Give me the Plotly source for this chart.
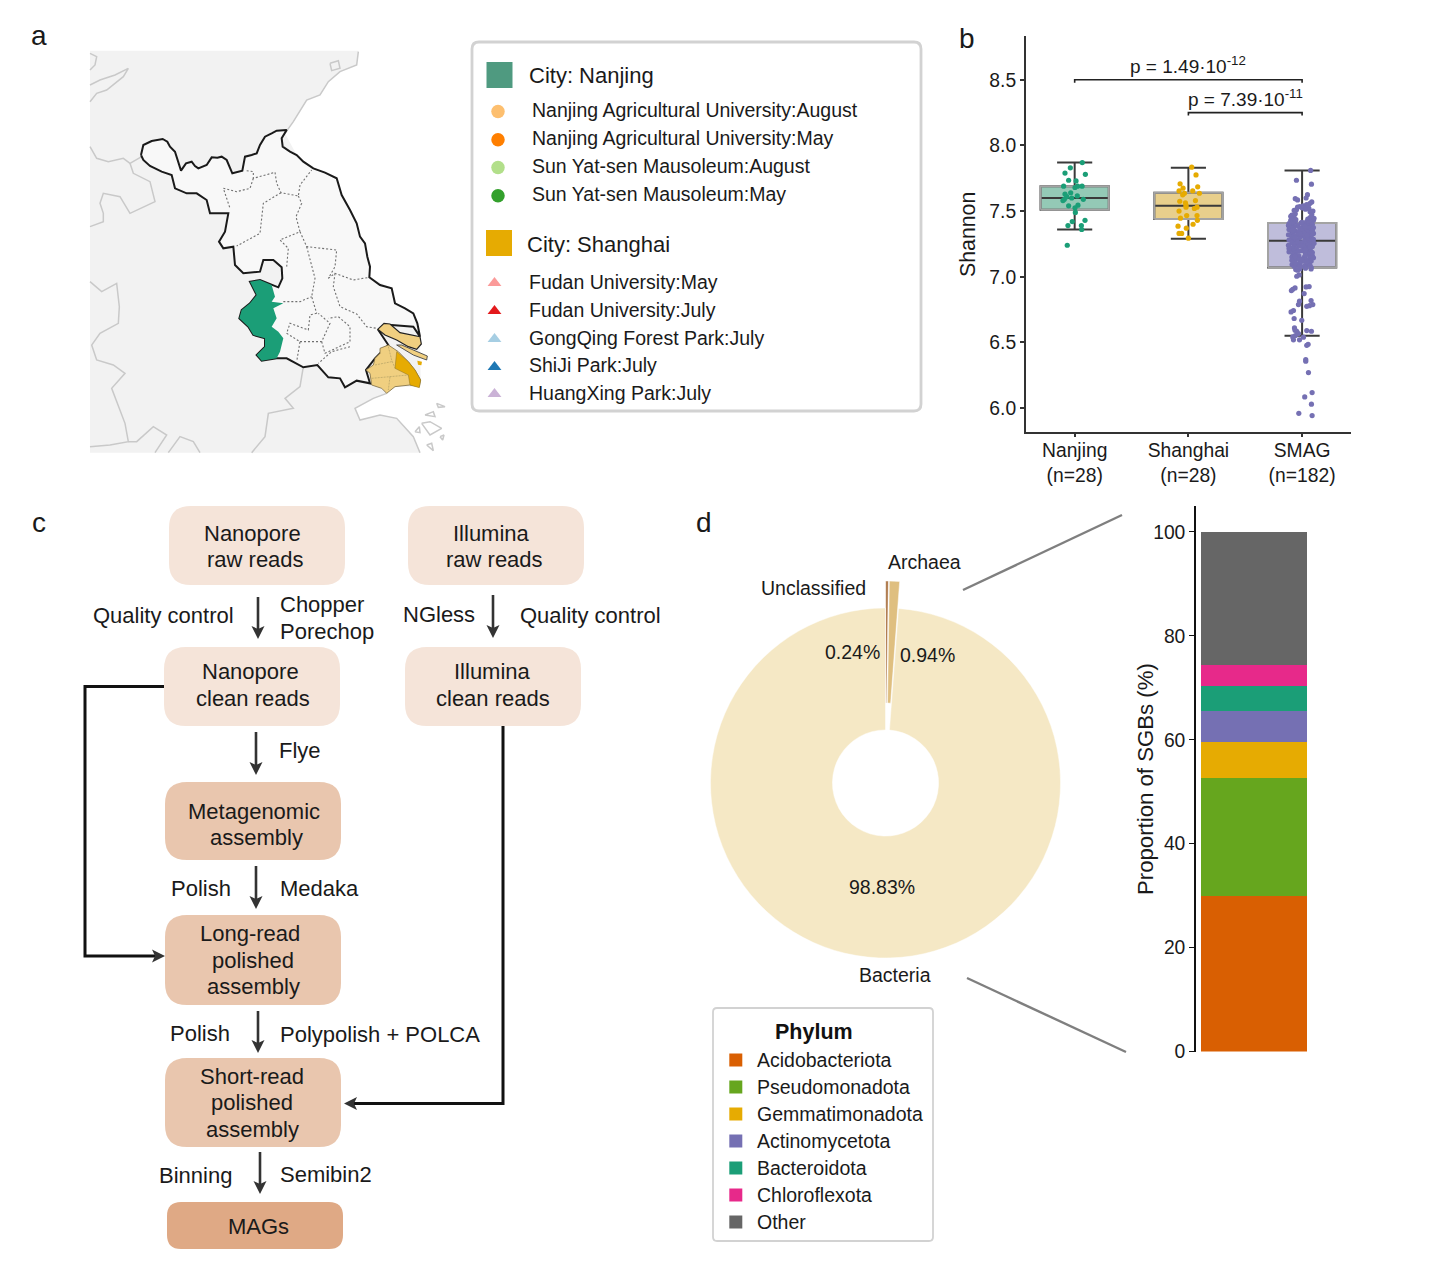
import plotly.graph_objects as go

W, H = 1456, 1282
FONT = "Liberation Sans"
TEXT = "#1a1a1a"

# ---------- panel a: map outlines, in map units ----------
LAND = [(30,32),(835,32),(830,75),(780,95),(745,125),(720,165),(680,180),(640,245),(615,280),(650,345),(700,385),(770,415),(785,465),(830,550),(840,590),(855,610),(870,680),(868,712),(935,745),(945,790),(1000,820),(1020,890),(1022,1020),(1018,1040),(945,1040),(920,1060),(880,1075),(825,1105),(840,1140),(900,1125),(950,1135),(1000,1190),(1020,1238),(30,1238),(30,32)]
JIANGSU = [(183,345),(190,315),(215,303),(232,300),(248,297),(262,305),(270,320),(285,335),(292,355),(303,392),(318,370),(335,365),(345,378),(355,385),(380,375),(395,352),(412,353),(425,350),(440,360),(447,375),(457,400),(487,392),(495,350),(515,345),(530,340),(540,315),(555,290),(575,280),(590,272),(620,270),(605,295),(608,320),(630,335),(650,345),(670,365),(700,385),(735,398),(770,415),(778,445),(785,465),(810,510),(830,550),(840,590),(855,610),(862,650),(870,680),(868,712),(900,735),(935,745),(945,790),(975,805),(1000,820),(1012,850),(1020,890),(1000,860),(935,855),(895,870),(925,915),(885,955),(858,990),(870,1030),(830,1022),(795,1042),(780,1015),(745,1012),(712,975),(670,982),(640,965),(620,955),(590,955),(545,962),(530,945),(555,920),(555,895),(520,885),(505,860),(478,835),(485,810),(510,790),(530,765),(510,725),(540,720),(575,735),(595,742),(607,715),(605,682),(580,660),(550,660),(540,695),(490,700),(465,675),(460,620),(430,625),(417,605),(435,575),(445,520),(390,520),(380,480),(350,460),(320,460),(285,445),(275,405),(245,395),(210,378),(190,360),(183,345)]
NANJING_AREA = [(510,725),(540,720),(575,735),(585,770),(575,785),(610,790),(580,805),(590,835),(575,860),(595,875),(610,895),(600,935),(590,955),(545,962),(530,945),(555,920),(555,895),(520,885),(505,860),(478,835),(485,810),(510,790),(530,765),(510,725)]
SHANGHAI_AREA = [(925,915),(955,935),(985,965),(1005,990),(1022,1020),(1018,1040),(990,1035),(945,1040),(920,1060),(905,1045),(875,1035),(870,1000),(858,990),(880,975),(885,955),(900,940),(900,925),(925,915)]
PUDONG = [(950,935),(985,965),(1005,990),(1022,1020),(1018,1043),(990,1035),(985,1005),(945,985),(950,935)]
CHONGMING = [(893,868),(912,850),(930,852),(960,878),(1020,890),(1024,912),(1010,928),(985,920),(950,900),(915,885),(893,868)]
HENGSHA = [(950,915),(965,915),(1042,948),(1040,960),(1000,945),(950,915)]
ISLET = [(1012,962),(1026,965),(1024,976),(1014,974),(1012,962)]
GREY_BORDERS = [
    [(30,40),(50,50),(45,75),(30,90)],
    [(30,135),(60,120),(105,105),(145,85),(130,110),(80,150),(50,160),(30,185)],
    [(30,320),(50,355),(85,365),(130,355),(150,370),(185,350)],
    [(150,370),(160,400),(210,425),(225,485),(150,520),(120,470),(70,460),(60,490),(70,520),(70,545),(30,560)],
    [(30,725),(65,755),(110,730),(118,800),(115,850),(60,880),(35,915),(50,960),(100,975),(135,1000),(95,1045),(115,1095),(135,1150),(145,1205),(90,1215),(30,1220)],
    [(145,1205),(170,1205),(220,1160),(260,1185),(225,1238)],
    [(265,1238),(300,1190),(340,1205),(360,1238)],
    [(670,980),(660,1040),(615,1075),(640,1105),(565,1120),(555,1190),(515,1238)],
    [(835,35),(830,75),(780,95),(745,125),(720,165),(680,180),(640,245),(615,280)],
    [(750,70),(775,62),(780,85),(755,92),(750,70)],
    [(920,1060),(880,1075),(825,1105),(840,1140),(900,1125),(950,1135),(1000,1190),(1020,1238)],
    [(1070,1090),(1095,1100),(1075,1102),(1070,1090)],
    [(1035,1125),(1060,1115),(1065,1130),(1035,1125)],
    [(1005,1175),(1018,1160),(1020,1178),(1005,1175)],
    [(1025,1150),(1050,1145),(1085,1165),(1050,1185),(1025,1150)],
    [(1080,1190),(1092,1185),(1088,1200),(1080,1190)],
    [(1040,1215),(1055,1210),(1060,1232),(1040,1215)],
]
CITY_BORDERS = [
    [(500,392),(520,395),(520,415),(585,397),(590,430),(603,458),(655,468),(660,435),(695,390)],
    [(520,415),(510,445),(470,455),(430,445),(450,505)],
    [(603,458),(550,490),(540,580),(470,618)],
    [(655,468),(665,490),(648,530),(660,575),(600,600),(625,625),(620,680)],
    [(660,575),(680,620),(770,630),(765,680),(745,715)],
    [(680,620),(705,715),(695,770),(710,820)],
    [(745,715),(765,700),(820,720),(868,712)],
    [(765,700),(760,740),(780,800),(830,822),(860,860),(890,865)],
    [(610,785),(660,785),(695,770)],
    [(710,820),(690,825),(685,870),(630,850),(620,880),(660,905),(650,965)],
    [(660,905),(725,905),(750,850),(715,820)],
    [(725,905),(735,940),(810,905),(810,860),(775,830),(745,835)],
    [(810,920),(755,935),(715,970)],
]
SHANGHAI_DISTRICTS = [
    [(925,920),(935,960),(945,985)],
    [(885,975),(935,965)],
    [(875,1015),(930,1010),(985,1005)],
    [(930,1010),(925,1050)],
]

# ---------- panel a: legend ----------
CITY_LABELS = ["City: Nanjing", "City: Shanghai"]
CITY_COLORS = ["#4f9a80", "#e6ab02"]
NANJING_SITES = ["Nanjing Agricultural University:August", "Nanjing Agricultural University:May",
                 "Sun Yat-sen Mausoleum:August", "Sun Yat-sen Mausoleum:May"]
NANJING_COLORS = ["#fdbf6f", "#ff7f00", "#b2df8a", "#33a02c"]
SHANGHAI_SITES = ["Fudan University:May", "Fudan University:July", "GongQing Forest Park:July",
                  "ShiJi Park:July", "HuangXing Park:July"]
SHANGHAI_COLORS = ["#fb9a99", "#e31a1c", "#a6cee3", "#1f78b4", "#cab2d6"]

# ---------- panel b: Shannon diversity ----------
GROUPS = ["Nanjing<br>(n=28)", "Shanghai<br>(n=28)", "SMAG<br>(n=182)"]
GROUP_COLORS = ["#1b9e77", "#e6ab02", "#7570b3"]
GROUP_FILLS = ["#94c9b6", "#e8cf8c", "#bfbddb"]
Q1 = [7.51, 7.44, 7.07]
MEDIAN = [7.60, 7.54, 7.275]
Q3 = [7.69, 7.64, 7.41]
LOW = [7.36, 7.29, 6.55]
HIGH = [7.87, 7.83, 7.81]
NANJING_V = [7.87,7.83,7.79,7.78,7.735,7.73,7.69,7.68,7.69,7.69,7.64,7.63,7.616,7.61,7.59,7.58,7.60,7.59,7.545,7.54,7.525,7.49,7.42,7.43,7.39,7.39,7.36,7.24]
NANJING_DX = [.067,-.038,-.085,.094,-.053,.012,-.097,.003,.026,.065,-.035,-.085,.023,-.07,-.091,-.103,-.026,.076,.029,-.053,.003,.006,-.021,.091,-.059,.059,.062,-.065]
SHANGHAI_V = [7.835,7.776,7.708,7.685,7.675,7.654,7.654,7.636,7.636,7.624,7.575,7.58,7.563,7.545,7.53,7.53,7.52,7.50,7.466,7.466,7.446,7.43,7.40,7.385,7.37,7.33,7.33,7.294]
SHANGHAI_DX = [.029,.067,-.073,.082,-.047,-.082,.038,.097,-.035,-.05,-.076,.062,-.026,-.021,-.021,.076,.053,-.082,-.015,.076,-.07,.079,.041,-.091,-.018,-.082,-.059,0]
SMAG_POINTS = [
 (5.96,-.029),(5.943,.088),(6.03,.082),(6.085,.023),(6.118,.088),(6.27,.056),(6.37,.032),(6.357,.032),(6.486,.053),(6.478,.041),
 (6.54,.012),(6.52,-.023),(6.52,-.076),(6.542,-.082),(6.552,-.059),(6.567,-.032),(6.61,-.067),(6.593,-.062),(6.585,-.047),(6.59,.041),
 (6.585,.082),(6.669,-.003),(6.682,-.07),(6.743,-.076),(6.732,-.097),(6.814,-.023),(6.788,-.032),(6.775,.041),(6.78,.065),(6.788,.094),
 (6.819,.079),(6.872,.018),(6.895,-.094),(6.905,-.082),(6.915,-.062),(6.923,.035),(6.925,.062),(7.004,-.047),(7.014,-.026),(7.055,-.056),
 (7.06,.079),(7.093,-.088),(7.093,-.047),(7.10,-.018),(7.118,.018),(7.11,.065),
 (7.81,.075),(7.735,-.05),(7.705,.082),(7.625,.047),(7.60,.035),(7.595,-.06),(7.585,-.04),(7.57,.085),(7.56,.07),(7.55,.04),
 (7.54,.01),(7.535,-.02),(7.51,-.05),(7.495,.07),(7.48,-.06),
 (7.47,-.09),(7.525,.0),(7.52,.06),(7.46,-.1),(7.515,.03),(7.50,.095),(7.45,-.07),(7.505,-.07),(7.45,.07),(7.44,-.09),(7.53,-.04),(7.44,.05),
 (7.43,-.1),(7.545,.055),(7.43,.1),(7.42,-.06),(7.42,.04),(7.42,.08),(7.41,-.09),(7.41,-.01),(7.41,.06),(7.40,-.08),(7.40,.02),(7.40,.09),
 (7.39,-.12),(7.39,-.04),(7.39,.05),(7.38,-.07),(7.38,.01),(7.38,.08),(7.37,-.09),(7.37,-.02),(7.37,.06),(7.36,-.115),(7.36,.03),(7.36,.09),
 (7.35,-.06),(7.35,.0),(7.35,.07),(7.34,-.09),(7.34,-.03),(7.34,.05),(7.33,-.08),(7.33,.02),(7.33,.1),(7.32,-.12),(7.32,-.04),(7.32,.06),
 (7.31,-.07),(7.31,.01),(7.31,.08),(7.30,-.09),(7.30,-.02),(7.30,.04),(7.29,-.08),(7.29,.03),(7.29,.07),(7.28,-.115),(7.28,-.05),(7.28,.05),
 (7.27,-.07),(7.27,.02),(7.27,.09),(7.26,-.09),(7.26,-.01),(7.26,.06),(7.25,-.06),(7.25,.03),(7.25,.08),(7.24,-.12),(7.24,-.03),(7.24,.05),
 (7.23,-.07),(7.23,.01),(7.23,.09),(7.22,-.09),(7.22,.04),(7.21,-.05),(7.21,.07),(7.20,-.08),(7.20,.0),(7.20,.05),(7.19,-.115),(7.19,.08),
 (7.18,-.06),(7.18,.03),(7.17,-.08),(7.17,.06),(7.16,-.03),(7.16,.09),(7.15,-.09),(7.15,.02),(7.14,-.05),(7.14,.07),(7.13,-.07),(7.13,.04),
 (7.12,-.02),(7.12,.08),(7.09,.04),(7.08,-.07),(7.08,.02),(7.07,.08),(7.06,-.02),(7.05,-.04),
 (7.445,.105),(7.435,-.055),(7.415,.0),(7.405,-.115),(7.385,.025),(7.375,.1),(7.355,-.085),(7.345,.09),(7.325,-.015),(7.315,.045),(7.295,-.06),
 (7.285,.1),(7.265,-.04),(7.255,.105),(7.235,-.015),(7.225,.065),(7.215,-.115),(7.205,.03),(7.195,-.03),(7.185,.09),(7.165,.03),(7.155,-.065),
 (7.145,.1),(7.135,-.01),(7.125,-.09),(7.115,.04),(7.105,-.06),(7.085,.07),(7.075,-.02),(7.065,.03),(7.475,.085),
]
BRACKET_LEVELS = [8.5, 8.25]
BRACKET_LABELS = ["p = 1.49·10<sup>-12</sup>", "p = 7.39·10<sup>-11</sup>"]

# ---------- panel d ----------
DOMAINS = ["Unclassified", "Archaea", "Bacteria"]
DOMAIN_SHARE = [0.24, 0.94, 98.83]
DOMAIN_COLORS = ["#a9703f", "#dfbf80", "#f5e8c5"]
DOMAIN_PULL = [0.154, 0.154, 0]
PHYLA = ["Acidobacteriota", "Pseudomonadota", "Gemmatimonadota", "Actinomycetota", "Bacteroidota", "Chloroflexota", "Other"]
PHYLA_SHARE = [30.0, 22.7, 6.9, 5.9, 4.9, 4.0, 25.6]
PHYLA_COLORS = ["#d95f02", "#66a61e", "#e6ab02", "#7570b3", "#1b9e77", "#e7298a", "#666666"]

# ---------- panel c: flow chart ----------
LIGHT, MID, DARK = "#f5e4d9", "#e9c6ae", "#dfa985"
NODES = [
    (169,506,345,585,LIGHT),(408,506,584,585,LIGHT),(164,647,340,726,LIGHT),(405,647,581,726,LIGHT),
    (165,782,341,860,MID),(165,915,341,1005,MID),(165,1058,341,1147,MID),(167,1202,343,1249,DARK),
]
STEPS = [(258,597,639),(493,595,638),(256,732,775),(256,866,909),(258,1011,1053),(260,1152,1194)]
CENTERED = [
    ("Nanopore",252,533),("raw reads",255,559),("Illumina",491,533),("raw reads",494,559),
    ("Nanopore",250,671),("clean reads",253,698),("Illumina",492,671),("clean reads",493,698),
    ("Metagenomic",254,811),("assembly",256,837),("Long-read",250,933),("polished",253,960),("assembly",253,986),
    ("Short-read",252,1076),("polished",252,1102),("assembly",252,1129),("MAGs",258,1226),
]
LEFT = [
    ("Quality control",92,615),("Chopper",279,604),("Porechop",279,631),("NGless",402,614),("Quality control",519,615),
    ("Flye",278,750),("Polish",170,888),("Medaka",279,888),("Polish",169,1033),("Polypolish + POLCA",279,1034),
    ("Binning",158,1175),("Semibin2",279,1174),
]
PANEL_LETTERS = [("a",30,35),("b",958,38),("c",31,522),("d",695,522)]

def dom_x(a, b): return [a / W, b / W]
def dom_y(top, bottom): return [1 - bottom / H, 1 - top / H]

fig = go.Figure()

def xy(pts):
    return [p[0] for p in pts], [p[1] for p in pts]

# ----- canvas traces (legend markers) -----
fig.add_trace(go.Scatter(x=[499.5, 499], y=[75, 243], mode="markers", xaxis="x", yaxis="y",
                         marker=dict(symbol="square", size=26, color=CITY_COLORS), hoverinfo="skip"))
fig.add_trace(go.Scatter(x=[498]*4, y=[111.5, 139.7, 167.6, 195.8], mode="markers", xaxis="x", yaxis="y",
                         marker=dict(symbol="circle", size=13.5, color=NANJING_COLORS), hoverinfo="skip"))
fig.add_trace(go.Scatter(x=[494.5]*5, y=[283, 311, 339, 367, 394], mode="markers", xaxis="x", yaxis="y",
                         marker=dict(symbol="triangle-up", size=12, color=SHANGHAI_COLORS), hoverinfo="skip"))
fig.add_trace(go.Scatter(x=[735.8]*7, y=[1060, 1087, 1114, 1141, 1168, 1195, 1222], mode="markers", xaxis="x", yaxis="y",
                         marker=dict(symbol="square", size=13, color=PHYLA_COLORS), hoverinfo="skip"))

# ----- map -----
def area(pts, fill, line="rgba(0,0,0,0)", width=0):
    x, y = xy(pts)
    fig.add_trace(go.Scatter(x=x, y=y, mode="lines", fill="toself", fillcolor=fill, xaxis="x2", yaxis="y2",
                             line=dict(color=line, width=width), hoverinfo="skip"))
def polyline(pts, color, width, dash="solid"):
    x, y = xy(pts)
    fig.add_trace(go.Scatter(x=x, y=y, mode="lines", xaxis="x2", yaxis="y2",
                             line=dict(color=color, width=width, dash=dash), hoverinfo="skip"))

area(LAND, "#f2f2f2")
for b in GREY_BORDERS:
    polyline(b, "#c9c9c9", 1.5)
area(JIANGSU, "#f8f8f8", "#1a1a1a", 2)
for b in CITY_BORDERS:
    polyline(b, "#707070", 1.1, "2px,2px")
area(NANJING_AREA, "#1b9e77")
area(SHANGHAI_AREA, "#f0cf80", "#7a6a40", 0.8)
area(PUDONG, "#e6ab02", "#8a7020", 0.5)
for b in SHANGHAI_DISTRICTS:
    polyline(b, "#a89860", 0.6, "2px,1px")
area(CHONGMING, "#f0cf80", "#222222", 1.2)
area(HENGSHA, "#f0cf80", "#444444", 0.9)
area(ISLET, "#e6ab02")

# ----- box plot -----
DARK_LINE = "#3a3a3a"
for i in range(3):
    fig.add_trace(go.Box(x=[i], q1=[Q1[i]], median=[MEDIAN[i]], q3=[Q3[i]], lowerfence=[LOW[i]], upperfence=[HIGH[i]],
                         width=0.6, whiskerwidth=0.515, fillcolor=GROUP_FILLS[i], line=dict(color=DARK_LINE, width=2),
                         boxpoints=False, xaxis="x3", yaxis="y3", hoverinfo="skip"))
    fig.add_trace(go.Scatter(x=[i-.3, i+.3, i+.3, i-.3, i-.3], y=[Q1[i], Q1[i], Q3[i], Q3[i], Q1[i]], mode="lines",
                             line=dict(color="#a3a3a3", width=2), xaxis="x3", yaxis="y3", hoverinfo="skip"))
pts_x = [[0 + d for d in NANJING_DX], [1 + d for d in SHANGHAI_DX], [2 + p[1] for p in SMAG_POINTS]]
pts_y = [NANJING_V, SHANGHAI_V, [p[0] for p in SMAG_POINTS]]
for i in range(3):
    fig.add_trace(go.Scatter(x=pts_x[i], y=pts_y[i], mode="markers", marker=dict(size=5.2, color=GROUP_COLORS[i]),
                             xaxis="x3", yaxis="y3", hoverinfo="skip"))
for start, level in zip([0, 1], BRACKET_LEVELS):
    fig.add_trace(go.Scatter(x=[start, start, 2, 2], y=[level-.022, level, level, level-.022], mode="lines",
                             line=dict(color="#222222", width=1.6), xaxis="x3", yaxis="y3", hoverinfo="skip"))

# ----- stacked bar -----
for name, v, c in zip(PHYLA, PHYLA_SHARE, PHYLA_COLORS):
    fig.add_trace(go.Bar(x=[0], y=[v], name=name, width=0.914, marker=dict(color=c, line=dict(width=0)),
                         xaxis="x4", yaxis="y4", hoverinfo="skip"))

# ----- donut -----
fig.add_trace(go.Pie(labels=DOMAINS, values=DOMAIN_SHARE, sort=False, direction="clockwise", rotation=0,
                     pull=DOMAIN_PULL, hole=0.303, textinfo="none", hoverinfo="skip",
                     marker=dict(colors=DOMAIN_COLORS, line=dict(color="white", width=0.5)),
                     domain=dict(x=dom_x(683.5, 1087.5), y=dom_y(581, 985))))

# ----- shapes -----
def rounded(x0, y0, x1, y1, r):
    return (f"M{x0+r},{y0} L{x1-r},{y0} Q{x1},{y0} {x1},{y0+r} L{x1},{y1-r} Q{x1},{y1} {x1-r},{y1} "
            f"L{x0+r},{y1} Q{x0},{y1} {x0},{y1-r} L{x0},{y0+r} Q{x0},{y0} {x0+r},{y0} Z")

shapes = []
for x0, y0, x1, y1, c in NODES:
    r = 14 if y1 - y0 < 60 else 22
    shapes.append(dict(type="path", path=rounded(x0, y0, x1, y1, r), xref="x", yref="y",
                       fillcolor=c, line=dict(width=0), layer="below"))
shapes.append(dict(type="path", path=rounded(472, 42, 921, 411, 7), xref="x", yref="y", fillcolor="white",
                   line=dict(color="#d2d2d2", width=2.8), layer="below"))
shapes.append(dict(type="path", path=rounded(713, 1008, 933, 1241, 4), xref="x", yref="y", fillcolor="white",
                   line=dict(color="#d2d2d2", width=1.8), layer="below"))
for p in ["M164,686.5 L85,686.5 L85,956 L155,956", "M503,726 L503,1103.5 L352,1103.5"]:
    shapes.append(dict(type="path", path=p, xref="x", yref="y", line=dict(color="#111111", width=3), layer="below"))
for p in ["M963,590 L1122,515", "M967,978 L1126,1052"]:
    shapes.append(dict(type="path", path=p, xref="x", yref="y", line=dict(color="#7f7f7f", width=2.4), layer="below"))

ARROW = "#333333"
for x, y0, y1 in STEPS:
    shapes.append(dict(type="path", path=f"M{x},{y0} L{x},{y1-10}", xref="x", yref="y",
                       line=dict(color=ARROW, width=2.6), layer="below"))
    shapes.append(dict(type="path", path=f"M{x},{y1} L{x+6.5},{y1-13} L{x},{y1-10} L{x-6.5},{y1-13} Z", xref="x", yref="y",
                       fillcolor=ARROW, line=dict(width=0), layer="below"))
shapes.append(dict(type="path", path="M165,956 L152,949.5 L155,956 L152,962.5 Z", xref="x", yref="y",
                   fillcolor=ARROW, line=dict(width=0), layer="below"))
shapes.append(dict(type="path", path="M344,1103.5 L357,1097 L354,1103.5 L357,1110 Z", xref="x", yref="y",
                   fillcolor=ARROW, line=dict(width=0), layer="below"))

# ----- annotations -----
ann = []
def note(t, x, y, size=22, anchor="center", **kw):
    ann.append(dict(text=t, x=x, y=y, xref="x", yref="y", showarrow=False, xanchor=anchor, yanchor="middle",
                    font=dict(family=FONT, size=size, color=kw.pop("color", TEXT)), borderpad=0, **kw))

for t, x, y in CENTERED: note(t, x, y)
for t, x, y in LEFT: note(t, x, y, anchor="left")
for t, x, y in PANEL_LETTERS: note(t, x, y, size=28, anchor="left")

note(CITY_LABELS[0], 528, 75, size=22, anchor="left")
note(CITY_LABELS[1], 526, 244, size=22, anchor="left")
for t, y in zip(NANJING_SITES, [110, 138, 166, 194]): note(t, 530.5, y, size=19.5, anchor="left")
for t, y in zip(SHANGHAI_SITES, [282, 310, 338, 365, 393]): note(t, 527.5, y, size=19.5, anchor="left")

note(BRACKET_LABELS[0], 1188, 65, size=19)
note(BRACKET_LABELS[1], 1245, 98, size=19)
note("Shannon", 968, 235, size=21.3, textangle=-90)
note("Proportion of SGBs (%)", 1145, 779, size=22.2, textangle=-90)

note("Unclassified", 867, 588, size=19.5, anchor="right")
note("Archaea", 887, 562, size=19.5, anchor="left")
note("0.24%", 824, 652, size=19.5, anchor="left")
note("0.94%", 899, 655, size=19.5, anchor="left")
note("98.83%", 882, 887, size=19.5)
note("Bacteria", 895, 975, size=19.5)

ann.append(dict(text="<b>Phylum</b>", x=814, y=1032, xref="x", yref="y", showarrow=False,
                font=dict(family=FONT, size=21.5, color="#111111")))
for t, y in zip(PHYLA, [1060, 1087, 1114, 1141, 1168, 1195, 1222]): note(t, 755.5, y, size=19.5, anchor="left")

hidden = dict(visible=False, showgrid=False, zeroline=False, fixedrange=True)
tickfont = dict(family=FONT, size=19.3, color=TEXT)
fig.update_layout(
    width=W, height=H, autosize=False, margin=dict(l=0, r=0, t=0, b=0, pad=0, autoexpand=False), showlegend=False,
    paper_bgcolor="white", plot_bgcolor="rgba(0,0,0,0)", barmode="stack", boxmode="overlay",
    shapes=shapes, annotations=ann,
    xaxis=dict(hidden, domain=[0, 1], range=[0, W]),
    yaxis=dict(hidden, domain=[0, 1], range=[H, 0]),
    xaxis2=dict(hidden, domain=dom_x(80, 460), range=[0, 1140]),
    yaxis2=dict(hidden, domain=dom_y(40, 460), range=[1260, 0]),
    xaxis3=dict(domain=dom_x(1026, 1351), range=[-0.428, 2.43], tickmode="array", tickvals=[0, 1, 2], ticktext=GROUPS,
                showgrid=False, zeroline=False, showline=True, linecolor="#333333", linewidth=2, ticks="outside",
                ticklen=3, tickwidth=1.5, tickcolor="#333333", tickfont=tickfont, anchor="y3", ticklabelstandoff=-3),
    yaxis3=dict(domain=dom_y(35.7, 431.7), range=[5.82, 8.836], tickmode="array", tickvals=[6, 6.5, 7, 7.5, 8, 8.5],
                ticktext=["6.0", "6.5", "7.0", "7.5", "8.0", "8.5"], showgrid=False, zeroline=False, showline=True,
                linecolor="#333333", linewidth=2, ticks="outside", ticklen=4, tickwidth=1.5, tickcolor="#333333",
                tickfont=tickfont, anchor="x3"),
    xaxis4=dict(hidden, domain=dom_x(1196, 1312), range=[-0.5, 0.5], anchor="y4"),
    yaxis4=dict(domain=dom_y(506, 1051.5), range=[0, 105], tickmode="array", tickvals=[0, 20, 40, 60, 80, 100],
                showgrid=False, zeroline=False, showline=True, linecolor="#111111", linewidth=1.6, ticks="outside",
                ticklen=5, tickwidth=1.2, tickcolor="#111111", tickfont=tickfont, anchor="x4"),
)
fig.write_html("out.html", config={"responsive": False, "displayModeBar": False},
               post_script="document.body.style.margin='0';document.body.style.overflow='hidden';")
